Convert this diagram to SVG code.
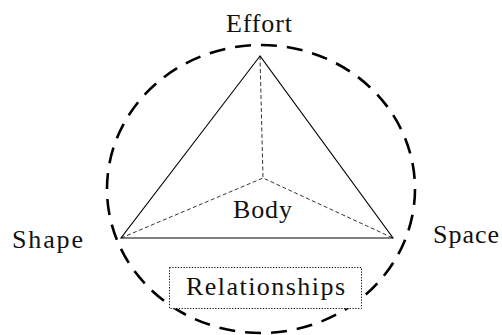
<svg xmlns="http://www.w3.org/2000/svg" width="502" height="335" viewBox="0 0 502 335">
<style>
.lbl{font-family:"Liberation Serif","Times New Roman",serif;font-size:26px;fill:#111;text-anchor:middle}
.outer{fill:none;stroke:#000;stroke-width:2.6;stroke-dasharray:16 10}
.tri{fill:none;stroke:#000;stroke-width:1.1}
.inner{fill:none;stroke:#000;stroke-width:0.8;stroke-dasharray:4 2.5}
.box{fill:none;stroke:#000;stroke-width:1;stroke-dasharray:1.2 1.6}
</style>
<rect width="502" height="335" fill="#fff"/>
<g id="boundary"><ellipse class="outer" cx="261" cy="189" rx="154" ry="144"/></g>
<g id="connectors">
<polygon class="tri" points="260,56 121,238 393,238"/>
<polyline class="inner" points="260,56 263,178"/>
<polyline class="inner" points="121,238 263,178 393,238"/>
</g>
<g id="effort"><text class="lbl" x="259" y="32" textLength="66" lengthAdjust="spacing">Effort</text></g>
<g id="body"><text class="lbl" x="262.5" y="218" textLength="59" lengthAdjust="spacing">Body</text></g>
<g id="shape"><text class="lbl" x="47.5" y="248" textLength="71" lengthAdjust="spacing">Shape</text></g>
<g id="space"><text class="lbl" x="466" y="243" textLength="66" lengthAdjust="spacing">Space</text></g>
<g id="relationships">
<rect class="box" x="169.5" y="267.5" width="192" height="41" fill="#fff" style="fill:#fff"/>
<text class="lbl" x="265.5" y="295" textLength="159" lengthAdjust="spacing">Relationships</text>
</g>
</svg>
